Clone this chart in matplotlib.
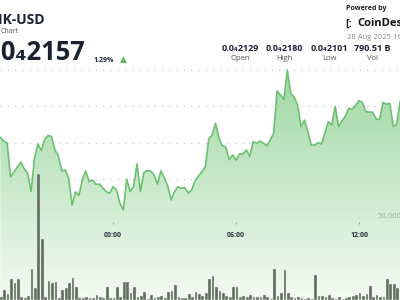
import numpy as np
import matplotlib.pyplot as plt
from matplotlib.colors import LinearSegmentedColormap

plt.rcParams['font.family'] = ['Open Sans', 'DejaVu Sans']

# BONK-USD, 10 minute steps from 18:30 (27 Aug) to 14:00 (28 Aug)
# prices in units of 1e-8 USD (0.0₄2157 -> 2157)
price = [2142.8, 2140.8, 2139.7, 2121.0, 2123.7, 2126.5, 2129.2, 2125.4, 2123.2, 2113.0,
         2131.4, 2139.2, 2135.6, 2141.9, 2143.9, 2143.2, 2135.9, 2132.6, 2124.3, 2124.8,
         2120.4, 2105.5, 2112.7, 2110.8, 2119.3, 2124.3, 2118.4, 2119.3, 2116.9, 2117.1,
         2114.9, 2112.9, 2112.0, 2115.6, 2113.8, 2106.5, 2102.8, 2119.7, 2112.9, 2115.6,
         2128.1, 2112.9, 2123.3, 2124.4, 2124.3, 2122.1, 2117.1, 2124.3, 2120.4, 2116.0,
         2108.3, 2112.9, 2115.6, 2114.7, 2115.1, 2112.1, 2113.8, 2118.8, 2121.5, 2123.9,
         2126.6, 2141.9, 2144.1, 2150.6, 2142.3, 2138.3, 2137.5, 2130.6, 2133.1, 2130.3,
         2133.7, 2133.7, 2135.9, 2132.3, 2140.4, 2139.6, 2140.8, 2139.6, 2138.2, 2141.4,
         2145.1, 2168.4, 2166.2, 2163.7, 2180.0, 2167.0, 2165.1, 2160.7, 2148.7, 2152.4,
         2146.0, 2138.6, 2138.6, 2139.9, 2139.2, 2145.2, 2151.5, 2149.7, 2159.8, 2148.7,
         2151.9, 2154.6, 2159.0, 2158.2, 2160.7, 2163.1, 2162.1, 2157.0, 2156.8, 2156.7,
         2152.9, 2152.8, 2162.1, 2161.1, 2161.6, 2148.8, 2150.2, 2162.5]

volume = [1940, 5880, 3530, 12180, 10180, 12350, 1940, 1000, 2350, 18060,
          6880, 74120, 35700, 1940, 11180, 10180, 10760, 1350, 5880, 7240,
          9820, 13120, 7820, 1350, 1000, 1940, 1350, 1350, 2760, 1940,
          1350, 7820, 1350, 1000, 7470, 1940, 10760, 10410, 4290, 7470,
          1940, 2530, 4530, 590, 2760, 1000, 1940, 2530, 1000, 4530,
          5470, 8820, 1940, 1000, 1350, 3350, 1940, 4880, 3530,
          2350, 3940, 12180, 14120, 7470, 5470, 3940, 2350, 1590, 7820,
          7470, 1590, 2350, 1590, 2760, 1590, 1590, 1590, 2760, 1590,
          410, 18060, 2350, 3940, 17650, 3940, 1940, 1350, 1940, 1350,
          760, 1180, 760, 14700, 2350, 2350, 1590, 2940, 1000, 410,
          1590, 410, 1000, 1590, 2350, 2940, 3940, 2350, 3350, 8240,
          1940, 2940, 1590, 1590, 12180, 9230, 9230, 6880, 12180]

grid_prices = [2100, 2120, 2140, 2160, 2180]
time_labels = ['00:00', '06:00', '12:00']
time_steps = [33, 69, 105]          # 10-minute steps after 18:30

stat_values = ['0.0₄2129', '0.0₄2180', '0.0₄2101', '790.51 B']
stat_labels = ['Open', 'High', 'Low', 'Vol']

W, H = 400, 300
fig = plt.figure(figsize=(4, 3), dpi=100)
fig.patch.set_facecolor('white')

steps = np.arange(len(price))
px_per_step = 3.417
x0 = -0.3 / px_per_step
x1 = (W - 0.3) / px_per_step
ylo = 2100 - 85 / 1.8125
yhi = 2100 + 215 / 1.8125

ax = fig.add_axes([0, 0, 1, 1])
ax.set_xlim(x0, x1)
ax.set_ylim(ylo, yhi)
ax.axis('off')

# dotted grid
for g in grid_prices:
    xmax = 372 / W if g == 2100 else 1
    ax.axhline(g, xmax=xmax, color='#c4c4c4', lw=0.8,
               linestyle=(0, (1.2, 5.4)), zorder=0)

# gradient area under the price line
cmap = LinearSegmentedColormap.from_list('area', ['#f3faf3', '#a0d8a3'])
grad = np.linspace(0, 1, 256).reshape(-1, 1)
im = ax.imshow(grad, extent=[x0, x1, ylo, 2180], origin='lower', cmap=cmap,
               aspect='auto', zorder=1)
area = ax.fill_between(steps, price, ylo, color='none', lw=0)
im.set_clip_path(area.get_paths()[0], transform=ax.transData)
ax.set_xlim(x0, x1)
ax.set_ylim(ylo, yhi)

ax.plot(steps, price, color='#6cc071', lw=1.2, zorder=3,
        solid_joinstyle='round')

# volume bars
vax = ax.twinx()
vax.set_ylim(0, 50000 * H / 85)
vax.bar(steps - 0.12, volume, width=0.8, align='edge', color='#5f6b61',
        edgecolor='#e4eee4', lw=0.3, zorder=2)
vax.axis('off')

# time axis
tax = fig.add_axes([0, 1 - 222 / H, 1, 0.0001], sharex=ax)
tax.patch.set_visible(False)
for s in tax.spines.values():
    s.set_visible(False)
tax.set_yticks([])
tax.set_xticks(time_steps)
tax.set_xticklabels(time_labels, fontsize=5, fontweight='bold', color='#2b2f3a')
tax.tick_params(axis='x', length=1.5, width=0.6, color='#9a9a9a', pad=5.8)
tax.set_xlim(x0, x1)

fig.text(378 / W, 1 - 218 / H, '50,000', fontsize=5.5, color='#9fb09f',
         ha='left', va='baseline')

# header
dark = '#1b2130'
fig.text(45.5 / W, 1 - 24.3 / H, 'BONK-USD', ha='right', va='baseline',
         fontsize=10, fontweight='bold', color=dark)
fig.text(0.2 / W, 1 - 33 / H, 'Chart', ha='left', va='baseline',
         fontsize=5, color='#555555')
fig.text(85 / W, 1 - 60 / H, '0.0₄2157', ha='right', va='baseline',
         fontsize=18.4, fontweight='bold', color=dark)
fig.text(94 / W, 1 - 61.5 / H, '1.29%', ha='left', va='baseline',
         fontsize=5, fontweight='bold', color=dark)
fig.text(123 / W, 1 - 62 / H, '▲', ha='center', va='baseline',
         fontsize=6.5, color='#5cb860', family='DejaVu Sans')

fig.text(345.5 / W, 1 - 10.3 / H, 'Powered by', ha='left', va='baseline',
         fontsize=5, fontweight='bold', color='#1b1b1b')
fig.text(345.5 / W, 1 - 26.5 / H, '[:', ha='left', va='baseline',
         fontsize=8, fontweight='bold', color='#1b1b1b')
fig.text(357 / W, 1 - 26.5 / H, 'CoinDesk', ha='left', va='baseline',
         fontsize=8, fontweight='bold', color='#141414')
fig.text(347 / W, 1 - 39 / H, '28 Aug 2025 16:', ha='left', va='baseline',
         fontsize=5.5, color='#8a8a8a')

for cx, val, lab in zip([240, 284.5, 329, 372.5], stat_values, stat_labels):
    fig.text(cx / W, 1 - 50.7 / H, val, ha='center', va='baseline',
             fontsize=6.5, fontweight='bold', color=dark)
    fig.text(cx / W, 1 - 60 / H, lab, ha='center', va='baseline',
             fontsize=5.5, color='#555555')

fig.savefig('out.png', dpi=100)
